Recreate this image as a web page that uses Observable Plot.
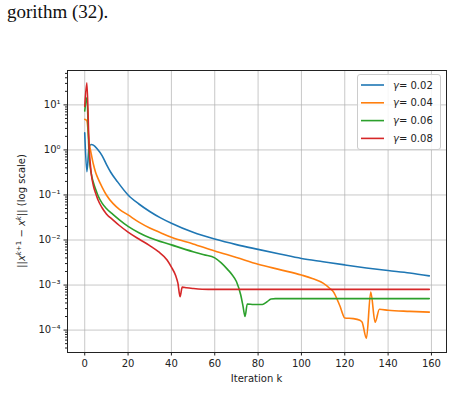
<!DOCTYPE html>
<html><head><meta charset="utf-8">
<script src="https://cdn.jsdelivr.net/npm/d3@7"></script>
<script src="https://cdn.jsdelivr.net/npm/@observablehq/plot@0.6"></script>
<style>
html,body{margin:0;padding:0;background:#fff;}
#wrap{position:relative;width:463px;height:408px;overflow:hidden;background:#fff;}
#top{position:absolute;left:7px;top:0px;font-family:"Liberation Serif","Times New Roman",serif;font-size:19px;line-height:24px;color:#111;white-space:nowrap;}
#chart{position:absolute;left:0;top:0;}
</style></head><body>
<div id="wrap"><div id="chart"></div><div id="top">gorithm (32).</div></div>
<script>
// ---- tick values / labels ----
const xTicks = [0, 20, 40, 60, 80, 100, 120, 140, 160];
const yTicks = [1e-4, 1e-3, 1e-2, 1e-1, 1, 10];
const yTickLabels = ["10\u207B\u2074", "10\u207B\u00B3", "10\u207B\u00B2", "10\u207B\u00B9", "10\u2070", "10\u00B9"];
const yMinorMultipliers = [2, 3, 4, 5, 6, 7, 8, 9];
const yMinorDecades = [1e-5, 1e-4, 1e-3, 1e-2, 1e-1, 1, 10];

// ---- series ----
const seriesNames = ["0.02", "0.04", "0.06", "0.08"];
const seriesColors = ["#1f77b4", "#ff7f0e", "#2ca02c", "#d62728"];

const g002_k = [0,1,2,3,4,6,8,10,12,15,20,25,30,35,40,50,60,70,80,90,100,110,120,130,140,150,159];
const g002_v = [2.4,0.33,1.15,1.32,1.28,1.02,0.75,0.48,0.32,0.2,0.1,0.063,0.043,0.031,0.0235,0.0148,0.0105,0.0079,0.0062,0.0049,0.0039,0.0033,0.0028,0.0024,0.0021,0.00185,0.0016];

const g004_k = [0,1,2,3,4,5,6,8,10,13,16,20,25,30,35,40,50,60,70,80,90,100,105,110,113,115,117,118,119,120,124,127,128,130,132,134,136,140,150,159];
const g004_v = [4.8,4.4,1.5,0.82,0.48,0.32,0.24,0.15,0.1,0.065,0.048,0.036,0.025,0.0185,0.0145,0.0115,0.0082,0.0057,0.0041,0.0029,0.0022,0.00167,0.0014,0.0011,0.00085,0.00068,0.00042,0.00032,0.00023,0.000185,0.00018,0.000165,0.00015,0.000066,0.0007,0.00015,0.00029,0.000275,0.00026,0.00025];

const g006_k = [0,1,2,3,4,5,6,8,10,13,16,20,25,30,40,50,55,60,63,66,68,70,72,73,74,75,78,82,84,86,88,100,120,140,159];
const g006_v = [7.3,14.5,0.8,0.3,0.19,0.135,0.1,0.066,0.05,0.037,0.028,0.02,0.0145,0.0112,0.0078,0.0055,0.0047,0.004,0.0031,0.0022,0.0017,0.0012,0.0006,0.00035,0.0002,0.00038,0.00037,0.00037,0.00042,0.00049,0.0005,0.0005,0.0005,0.0005,0.0005];

const g008_k = [0,1,2,3,4,5,6,8,10,13,16,20,25,30,34,38,40,42,43,44,45,47,50,57,80,120,159];
const g008_v = [9.2,31,1.2,0.3,0.16,0.11,0.08,0.052,0.038,0.028,0.021,0.015,0.0105,0.0075,0.0055,0.0036,0.0025,0.0016,0.0011,0.00055,0.0009,0.00087,0.00084,0.0008,0.0008,0.0008,0.0008];

const seriesK = [g002_k, g004_k, g006_k, g008_k];
const seriesV = [g002_v, g004_v, g006_v, g008_v];

const seriesData = seriesK.map((ks, i) => ks.map((k, j) => ({k, v: seriesV[i][j]})));
const yMinor = yMinorDecades.flatMap(d => yMinorMultipliers.map(m => m * d)).filter(v => v > 3.2e-5 && v < 58);

const W = 463, H = 408;
const mL = 67, mR = 17, mT = 70, mB = 56;

const chart = Plot.plot({
  width: W, height: H,
  marginLeft: mL, marginRight: mR, marginTop: mT, marginBottom: mB,
  x: {domain: [-7.95, 166.95]},
  y: {type: "log", domain: [3.18e-5, 58]},
  style: {fontFamily: "'DejaVu Sans', sans-serif", fontSize: "10px", color: "#222", background: "white", overflow: "visible"},
  marks: [
    Plot.gridX(xTicks, {stroke: "#b0b0b0", strokeOpacity: 0.7, strokeWidth: 1}),
    Plot.gridY(yTicks, {stroke: "#b0b0b0", strokeOpacity: 0.7, strokeWidth: 1}),
    ...seriesData.map((d, i) => Plot.line(d, {x: "k", y: "v", stroke: seriesColors[i], strokeWidth: 1.6, curve: "monotone-x"})),
    Plot.axisX(xTicks, {tickSize: 3.5, tickPadding: 3.5, label: null, tickFormat: d => String(d)}),
    Plot.axisY(yTicks, {tickSize: 3.5, tickPadding: 3.5, label: null, tickFormat: d => yTickLabels[yTicks.indexOf(d)]}),
    Plot.axisY(yMinor, {tickSize: 2, label: null, tickFormat: () => ""}),
    Plot.frame({stroke: "#222", strokeWidth: 1})
  ]
});
document.getElementById("chart").appendChild(chart);

const svg = d3.select(chart);
const cx = (mL + (W - mR)) / 2;
const cy = (mT + (H - mB)) / 2;

// x label
svg.append("text").attr("x", cx).attr("y", 382).attr("text-anchor", "middle")
  .attr("font-family", "'DejaVu Sans', sans-serif").attr("font-size", 10).attr("fill", "#222")
  .text("Iteration k");

// y label
const yl = svg.append("text").attr("transform", `translate(25,${cy}) rotate(-90)`)
  .attr("text-anchor", "middle").attr("font-family", "'DejaVu Sans', sans-serif")
  .attr("font-size", 10).attr("fill", "#222");
yl.append("tspan").text("||");
yl.append("tspan").attr("font-style", "italic").text("x");
yl.append("tspan").attr("font-size", 7).attr("dy", -4).attr("font-style", "italic").text("k");
yl.append("tspan").attr("font-size", 7).text("+1");
yl.append("tspan").attr("dy", 4).text(" \u2212 ");
yl.append("tspan").attr("font-style", "italic").text("x");
yl.append("tspan").attr("font-size", 7).attr("dy", -4).attr("font-style", "italic").text("k");
yl.append("tspan").attr("dy", 4).text("|| (log scale)");

// legend
const lg = svg.append("g");
lg.append("rect").attr("x", 357.5).attr("y", 74.5).attr("width", 83).attr("height", 75).attr("rx", 2.5)
  .attr("fill", "white").attr("fill-opacity", 0.85).attr("stroke", "#cccccc");
seriesNames.forEach((name, i) => {
  const y = 85 + i * 17.8;
  lg.append("line").attr("x1", 361).attr("x2", 384).attr("y1", y).attr("y2", y)
    .attr("stroke", seriesColors[i]).attr("stroke-width", 1.6);
  const t = lg.append("text").attr("x", 393).attr("y", y + 3.6).attr("text-anchor", "start")
    .attr("font-family", "'DejaVu Sans', sans-serif").attr("font-size", 10).attr("fill", "#222");
  t.append("tspan").attr("font-style", "italic").text("\u03B3");
  t.append("tspan").text("= " + name);
});
</script>
</body></html>
